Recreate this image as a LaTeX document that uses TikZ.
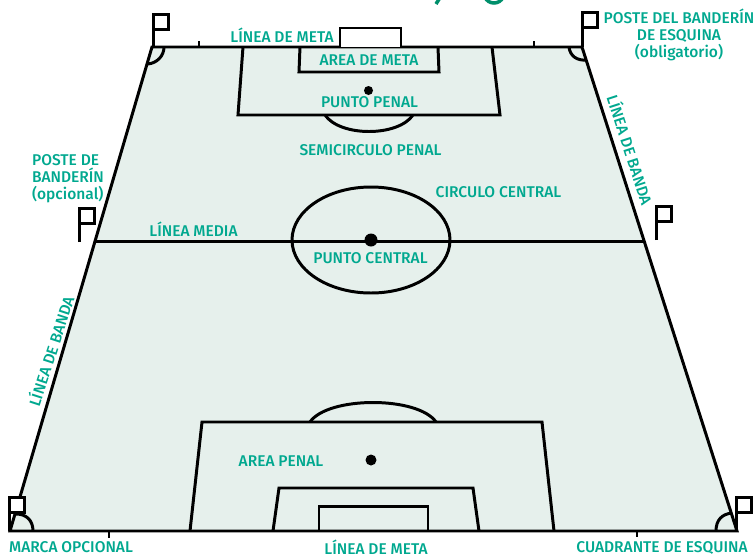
\documentclass[tikz,border=0pt]{standalone}
\usepackage{fontspec}
\setmainfont{Fira Sans Medium}
\usepackage{xcolor}
\usetikzlibrary{calc,positioning}
\definecolor{tealx}{HTML}{00A88F}
\definecolor{softbg}{HTML}{E6F0EC}
\definecolor{titlegreen}{HTML}{008F6B}
\tikzset{
  ln/.style={line width=1.7pt,black,line join=miter},
  lbl/.style={text=tealx,font=\fontsize{8.85}{9.7}\selectfont,inner sep=0pt,align=center},
  flagbox/.style={ln,fill=white}
}
\newcommand{\cornerflag}[2]{% pole foot, flag top left
  \draw[ln] (#1) -- ($(#2)$);
  \draw[flagbox] ($(#2)$) rectangle ++(15,15);
}
\begin{document}
\begin{tikzpicture}[x=0.02cm,y=-0.02cm]
\useasboundingbox (0,0) rectangle (755,555);
\coordinate (tl) at (152,47);
\coordinate (tr) at (582,47);
\coordinate (br) at (737,531);
\coordinate (bl) at (10,531);
\coordinate (ml) at (96,241.5);
\coordinate (mr) at (645,241.5);
% title cut by the top edge
\begin{scope}
\clip (0,0) rectangle (755,555);
\draw[titlegreen,line width=2pt] (441,-4) -- (436,4);
\draw[titlegreen,line width=2pt] (485,-3) .. controls (488,5) and (500,5) .. (503,-3);
\end{scope}
% field
\fill[softbg] (tl) -- (tr) -- (br) -- (bl) -- cycle;
\draw[ln] (tl) -- (tr) -- (br) -- (bl) -- cycle;
\draw[ln] (ml) -- (mr);
\draw[ln] (371,240) ellipse [x radius=79,y radius=53];
\fill (371,240) circle [radius=6.5];
% top end
\draw[ln] (243,47) -- (238,115) -- (500,115) -- (492,47);
\draw[ln] (300,47) -- (299,72) -- (439,72) -- (438,47);
\draw[ln,fill=white] (340,47) -- (340,28) -- (401,28) -- (401,47);
\draw[ln] (325,115) .. controls (340,137) and (398,137) .. (413,115);
\fill (368.5,90.5) circle [radius=4.5];
\draw[ln,line width=1.2pt] (199,41) -- (199,47) (534,41) -- (534,47);
% bottom end
\draw[ln] (190,531) -- (202,422) -- (542,422) -- (554,531);
\draw[ln] (273,531) -- (279,488) -- (473,488) -- (479,531);
\draw[ln] (319,531) -- (319,506.5) -- (428,506.5) -- (428,531);
\draw[ln] (310,422) .. controls (328,396) and (418,396) .. (436,422);
\fill (371,460) circle [radius=5.5];
\draw[ln] (109,531) -- (109,538) (637,531) -- (637,537);
% corner arcs
\draw[ln] (164,47) .. controls (164,56) and (157,63) .. (148,64);
\draw[ln] (569,47) .. controls (570,56) and (577,61) .. (587,60);
\draw[ln] (33,531) .. controls (33,520) and (26,514) .. (16,514);
\draw[ln] (716,531) .. controls (716,520) and (722,514) .. (732,513);
% flags
\cornerflag{153.5,47}{153.5,14.5}
\cornerflag{582.5,47}{582.5,12.5}
\cornerflag{79.5,242}{79.5,208.5}
\cornerflag{656.5,240}{656.5,206.5}
\cornerflag{9.5,531}{9.5,497.5}
\cornerflag{736.5,531}{736.5,497.5}
% labels
\node[lbl] (metatop) at (282,35) {LÍNEA DE META};
\node[lbl] (areameta) at (369,60) {AREA DE META};
\node[lbl] (puntopenal) at (369.5,102) {PUNTO PENAL};
\node[lbl] (semicirculo) at (370.5,150) {SEMICIRCULO PENAL};
\node[lbl] (circulo) at (498.5,192) {CIRCULO CENTRAL};
\node[lbl] (media) at (193.5,229) {LÍNEA MEDIA};
\node[lbl] (puntocentral) at (370.5,258) {PUNTO CENTRAL};
\node[lbl] (areapenal) at (281,461) {AREA PENAL};
\node[lbl] (marca) at (71,547.5) {MARCA OPCIONAL};
\node[lbl] (metabot) at (376,547.5) {LÍNEA DE META};
\node[lbl] (cuadrante) at (662,547.5) {CUADRANTE DE ESQUINA};
\node[lbl] (postetop) at (679,35) {POSTE DEL BANDERÍN\\DE ESQUINA\\(obligatorio)};
\node[lbl,align=left] (postemid) at (68,179) {POSTE DE\\BANDERÍN\\(opcional)};
\node[lbl,rotate=72] (bandaleft) at (50,351) {LÍNEA DE BANDA};
\node[lbl,rotate=-72] (bandaright) at (631,150) {LÍNEA DE BANDA};
\end{tikzpicture}
\end{document}
